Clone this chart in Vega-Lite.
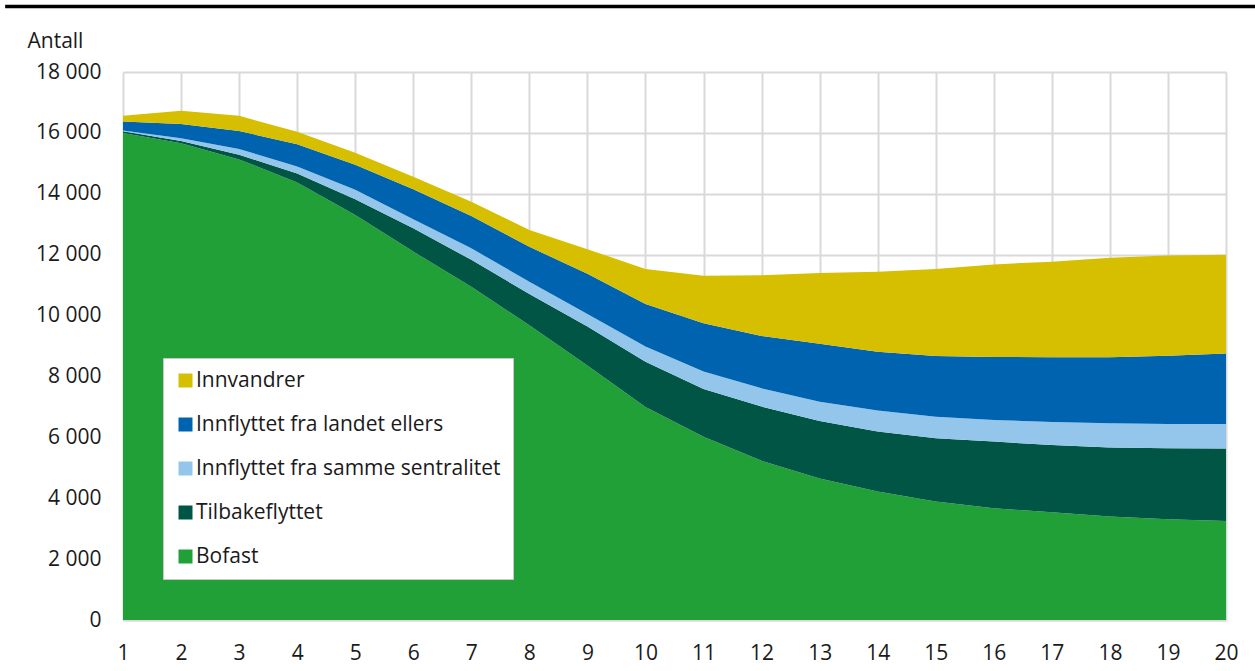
{
  "$schema": "https://vega.github.io/schema/vega-lite/v6.json",
  "autosize": {"type": "none"},
  "padding": {"left": 123, "top": 72, "right": 29, "bottom": 51},
  "width": 1103,
  "height": 548,
  "background": "white",
  "config": {
    "view": {"stroke": null},
    "font": "Open Sans",
    "locale": {"number": {"decimal": ",", "thousands": " ", "grouping": [3], "currency": ["", " kr"]}}
  },
  "datasets": {
    "main": [
      {"aar": 1, "serie": "Bofast", "antall": 16000},
      {"aar": 1, "serie": "Tilbakeflyttet", "antall": 50},
      {"aar": 1, "serie": "Innflyttet fra samme sentralitet", "antall": 30},
      {"aar": 1, "serie": "Innflyttet fra landet ellers", "antall": 290},
      {"aar": 1, "serie": "Innvandrer", "antall": 190},
      {"aar": 2, "serie": "Bofast", "antall": 15660},
      {"aar": 2, "serie": "Tilbakeflyttet", "antall": 70},
      {"aar": 2, "serie": "Innflyttet fra samme sentralitet", "antall": 90},
      {"aar": 2, "serie": "Innflyttet fra landet ellers", "antall": 470},
      {"aar": 2, "serie": "Innvandrer", "antall": 440},
      {"aar": 3, "serie": "Bofast", "antall": 15130},
      {"aar": 3, "serie": "Tilbakeflyttet", "antall": 150},
      {"aar": 3, "serie": "Innflyttet fra samme sentralitet", "antall": 190},
      {"aar": 3, "serie": "Innflyttet fra landet ellers", "antall": 590},
      {"aar": 3, "serie": "Innvandrer", "antall": 500},
      {"aar": 4, "serie": "Bofast", "antall": 14370},
      {"aar": 4, "serie": "Tilbakeflyttet", "antall": 300},
      {"aar": 4, "serie": "Innflyttet fra samme sentralitet", "antall": 230},
      {"aar": 4, "serie": "Innflyttet fra landet ellers", "antall": 730},
      {"aar": 4, "serie": "Innvandrer", "antall": 410},
      {"aar": 5, "serie": "Bofast", "antall": 13300},
      {"aar": 5, "serie": "Tilbakeflyttet", "antall": 520},
      {"aar": 5, "serie": "Innflyttet fra samme sentralitet", "antall": 310},
      {"aar": 5, "serie": "Innflyttet fra landet ellers", "antall": 820},
      {"aar": 5, "serie": "Innvandrer", "antall": 400},
      {"aar": 6, "serie": "Bofast", "antall": 12100},
      {"aar": 6, "serie": "Tilbakeflyttet", "antall": 770},
      {"aar": 6, "serie": "Innflyttet fra samme sentralitet", "antall": 290},
      {"aar": 6, "serie": "Innflyttet fra landet ellers", "antall": 990},
      {"aar": 6, "serie": "Innvandrer", "antall": 410},
      {"aar": 7, "serie": "Bofast", "antall": 10950},
      {"aar": 7, "serie": "Tilbakeflyttet", "antall": 880},
      {"aar": 7, "serie": "Innflyttet fra samme sentralitet", "antall": 380},
      {"aar": 7, "serie": "Innflyttet fra landet ellers", "antall": 1060},
      {"aar": 7, "serie": "Innvandrer", "antall": 470},
      {"aar": 8, "serie": "Bofast", "antall": 9680},
      {"aar": 8, "serie": "Tilbakeflyttet", "antall": 1030},
      {"aar": 8, "serie": "Innflyttet fra samme sentralitet", "antall": 400},
      {"aar": 8, "serie": "Innflyttet fra landet ellers", "antall": 1150},
      {"aar": 8, "serie": "Innvandrer", "antall": 550},
      {"aar": 9, "serie": "Bofast", "antall": 8360},
      {"aar": 9, "serie": "Tilbakeflyttet", "antall": 1280},
      {"aar": 9, "serie": "Innflyttet fra samme sentralitet", "antall": 410},
      {"aar": 9, "serie": "Innflyttet fra landet ellers", "antall": 1320},
      {"aar": 9, "serie": "Innvandrer", "antall": 810},
      {"aar": 10, "serie": "Bofast", "antall": 7000},
      {"aar": 10, "serie": "Tilbakeflyttet", "antall": 1480},
      {"aar": 10, "serie": "Innflyttet fra samme sentralitet", "antall": 500},
      {"aar": 10, "serie": "Innflyttet fra landet ellers", "antall": 1400},
      {"aar": 10, "serie": "Innvandrer", "antall": 1150},
      {"aar": 11, "serie": "Bofast", "antall": 6020},
      {"aar": 11, "serie": "Tilbakeflyttet", "antall": 1570},
      {"aar": 11, "serie": "Innflyttet fra samme sentralitet", "antall": 570},
      {"aar": 11, "serie": "Innflyttet fra landet ellers", "antall": 1590},
      {"aar": 11, "serie": "Innvandrer", "antall": 1560},
      {"aar": 12, "serie": "Bofast", "antall": 5230},
      {"aar": 12, "serie": "Tilbakeflyttet", "antall": 1780},
      {"aar": 12, "serie": "Innflyttet fra samme sentralitet", "antall": 600},
      {"aar": 12, "serie": "Innflyttet fra landet ellers", "antall": 1720},
      {"aar": 12, "serie": "Innvandrer", "antall": 1990},
      {"aar": 13, "serie": "Bofast", "antall": 4650},
      {"aar": 13, "serie": "Tilbakeflyttet", "antall": 1890},
      {"aar": 13, "serie": "Innflyttet fra samme sentralitet", "antall": 630},
      {"aar": 13, "serie": "Innflyttet fra landet ellers", "antall": 1900},
      {"aar": 13, "serie": "Innvandrer", "antall": 2330},
      {"aar": 14, "serie": "Bofast", "antall": 4220},
      {"aar": 14, "serie": "Tilbakeflyttet", "antall": 1970},
      {"aar": 14, "serie": "Innflyttet fra samme sentralitet", "antall": 690},
      {"aar": 14, "serie": "Innflyttet fra landet ellers", "antall": 1930},
      {"aar": 14, "serie": "Innvandrer", "antall": 2630},
      {"aar": 15, "serie": "Bofast", "antall": 3890},
      {"aar": 15, "serie": "Tilbakeflyttet", "antall": 2080},
      {"aar": 15, "serie": "Innflyttet fra samme sentralitet", "antall": 710},
      {"aar": 15, "serie": "Innflyttet fra landet ellers", "antall": 1990},
      {"aar": 15, "serie": "Innvandrer", "antall": 2860},
      {"aar": 16, "serie": "Bofast", "antall": 3670},
      {"aar": 16, "serie": "Tilbakeflyttet", "antall": 2190},
      {"aar": 16, "serie": "Innflyttet fra samme sentralitet", "antall": 710},
      {"aar": 16, "serie": "Innflyttet fra landet ellers", "antall": 2070},
      {"aar": 16, "serie": "Innvandrer", "antall": 3040},
      {"aar": 17, "serie": "Bofast", "antall": 3540},
      {"aar": 17, "serie": "Tilbakeflyttet", "antall": 2210},
      {"aar": 17, "serie": "Innflyttet fra samme sentralitet", "antall": 750},
      {"aar": 17, "serie": "Innflyttet fra landet ellers", "antall": 2130},
      {"aar": 17, "serie": "Innvandrer", "antall": 3140},
      {"aar": 18, "serie": "Bofast", "antall": 3400},
      {"aar": 18, "serie": "Tilbakeflyttet", "antall": 2270},
      {"aar": 18, "serie": "Innflyttet fra samme sentralitet", "antall": 790},
      {"aar": 18, "serie": "Innflyttet fra landet ellers", "antall": 2170},
      {"aar": 18, "serie": "Innvandrer", "antall": 3270},
      {"aar": 19, "serie": "Bofast", "antall": 3310},
      {"aar": 19, "serie": "Tilbakeflyttet", "antall": 2330},
      {"aar": 19, "serie": "Innflyttet fra samme sentralitet", "antall": 800},
      {"aar": 19, "serie": "Innflyttet fra landet ellers", "antall": 2240},
      {"aar": 19, "serie": "Innvandrer", "antall": 3290},
      {"aar": 20, "serie": "Bofast", "antall": 3250},
      {"aar": 20, "serie": "Tilbakeflyttet", "antall": 2380},
      {"aar": 20, "serie": "Innflyttet fra samme sentralitet", "antall": 810},
      {"aar": 20, "serie": "Innflyttet fra landet ellers", "antall": 2310},
      {"aar": 20, "serie": "Innvandrer", "antall": 3250}
    ]
  },
  "layer": [
    {
      "data": {"name": "main"},
      "transform": [
        {"calculate": "indexof(['Bofast','Tilbakeflyttet','Innflyttet fra samme sentralitet','Innflyttet fra landet ellers','Innvandrer'], datum.serie)", "as": "rekkefolge"}
      ],
      "mark": {"type": "area", "interpolate": "linear"},
      "encoding": {
        "x": {
          "field": "aar", "type": "quantitative",
          "scale": {"domain": [1, 20], "nice": false},
          "axis": {
            "title": null,
            "values": [1,2,3,4,5,6,7,8,9,10,11,12,13,14,15,16,17,18,19,20],
            "format": "d",
            "grid": true, "gridColor": "#d9d9d9", "gridWidth": 2,
            "domain": true, "domainColor": "#d9d9d9", "domainWidth": 2,
            "ticks": false,
            "labelFont": "Open Sans", "labelFontSize": 21, "labelColor": "#1a1a1a",
            "labelPadding": 22, "labelFlush": false
          }
        },
        "y": {
          "field": "antall", "type": "quantitative", "stack": "zero",
          "scale": {"domain": [0, 18000], "nice": false},
          "axis": {
            "title": "Antall",
            "titleAngle": 0, "titleAlign": "left", "titleBaseline": "middle",
            "titleX": -96, "titleY": -31,
            "titleFont": "Open Sans", "titleFontSize": 21, "titleFontWeight": "normal", "titleColor": "#1a1a1a",
            "values": [0, 2000, 4000, 6000, 8000, 10000, 12000, 14000, 16000, 18000],
            "format": ",d",
            "grid": true, "gridColor": "#d9d9d9", "gridWidth": 2,
            "domain": false, "ticks": false,
            "labelFont": "Open Sans", "labelFontSize": 21, "labelColor": "#1a1a1a",
            "labelPadding": 22
          }
        },
        "color": {
          "field": "serie", "type": "nominal",
          "scale": {
            "domain": ["Innvandrer", "Innflyttet fra landet ellers", "Innflyttet fra samme sentralitet", "Tilbakeflyttet", "Bofast"],
            "range": ["#D6BE00", "#0063AF", "#93C6EA", "#005544", "#21A038"]
          },
          "legend": {
            "title": null,
            "orient": "none", "legendX": 40, "legendY": 286,
            "direction": "vertical",
            "symbolType": "square", "symbolSize": 196, "symbolStrokeWidth": 0,
            "labelFont": "Open Sans", "labelFontSize": 21, "labelColor": "#1a1a1a",
            "labelLimit": 400, "labelOffset": 0,
            "rowPadding": 22,
            "padding": 12,
            "fillColor": "white", "strokeColor": "#c8c8c8"
          }
        },
        "order": {"field": "rekkefolge", "type": "quantitative"}
      }
    },
    {
      "data": {"values": [{"fra": -1.03, "til": 20.5, "niva": 20150}]},
      "mark": {"type": "rule", "color": "black", "strokeWidth": 3.5, "clip": false},
      "encoding": {
        "x": {"field": "fra", "type": "quantitative"},
        "x2": {"field": "til"},
        "y": {"field": "niva", "type": "quantitative"}
      }
    }
  ]
}
